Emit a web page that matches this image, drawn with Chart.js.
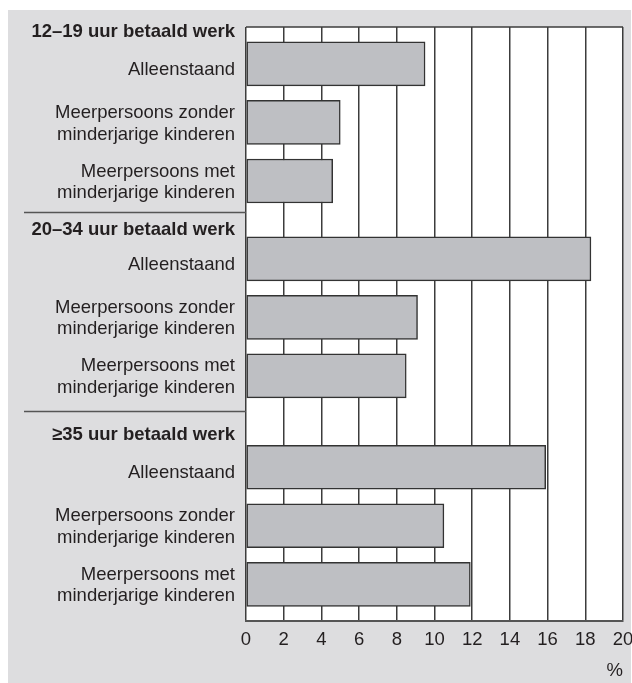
<!DOCTYPE html>
<html lang="nl">
<head>
<meta charset="utf-8">
<title>Betaald werk per huishouden</title>
<script src="https://cdn.jsdelivr.net/npm/chart.js@4.4.1/dist/chart.umd.min.js"></script>
<style>
  html, body { margin: 0; padding: 0; background: #fff; }
  canvas { display: block; }
</style>
</head>
<body>
<canvas id="grafiek" width="632" height="683"></canvas>
<script>
// Gegevens (in %)
const groepen = ['12–19 uur betaald werk', '20–34 uur betaald werk', '≥35 uur betaald werk'];
const huishoudens = [
  ['Alleenstaand'],
  ['Meerpersoons zonder', 'minderjarige kinderen'],
  ['Meerpersoons met', 'minderjarige kinderen']
];
const waarden12tot19 = [9.5, 5.0, 4.6];
const waarden20tot34 = [18.3, 9.1, 8.5];
const waarden35plus = [15.9, 10.5, 11.9];
const xMax = 20;
const xStap = 2;

// Indeling van de rijen (in eenheden van een balkrij)
const groepStart = [0.13, 3.46, 7.02]; // begin van de eerste balk per groep
const kopPositie = [0.09, 3.46, 6.97]; // hoogte van de groepskop
const scheidingslijnen = [3.16, 6.56];
const yMax = 10.14;

const tekstKleur = '#231f20';
const lettertype = '"Liberation Sans", Arial, Helvetica, sans-serif';

const waardenPerGroep = [waarden12tot19, waarden20tot34, waarden35plus];
const punten = [];
waardenPerGroep.forEach((rij, g) => {
  rij.forEach((v, i) => punten.push({ x: v, y: groepStart[g] + i + 0.5 }));
});

// Grijs vlak en witte plotruimte
const achtergrond = {
  id: 'achtergrond',
  beforeDraw(chart) {
    const { ctx, chartArea: a } = chart;
    ctx.save();
    ctx.fillStyle = '#dddddf';
    ctx.fillRect(8, 10, 623, 673);
    ctx.fillStyle = '#ffffff';
    ctx.fillRect(a.left, a.top, a.right - a.left, a.bottom - a.top);
    ctx.restore();
  }
};

// Labels links, groepskoppen en scheidingslijnen
const rijLabels = {
  id: 'rijLabels',
  afterDraw(chart) {
    const { ctx, chartArea: a } = chart;
    const y = chart.scales.y;
    const xTekst = a.left - 11;
    ctx.save();
    ctx.fillStyle = tekstKleur;
    ctx.textAlign = 'right';
    ctx.textBaseline = 'middle';
    groepen.forEach((kop, g) => {
      ctx.font = 'bold 18.5px ' + lettertype;
      ctx.fillText(kop, xTekst, y.getPixelForValue(kopPositie[g]));
      ctx.font = '18.5px ' + lettertype;
      huishoudens.forEach((regels, i) => {
        const py = y.getPixelForValue(groepStart[g] + i + 0.5);
        if (regels.length === 1) {
          ctx.fillText(regels[0], xTekst, py + 6);
        } else {
          ctx.fillText(regels[0], xTekst, py - 9.5);
          ctx.fillText(regels[1], xTekst, py + 12);
        }
      });
    });
    ctx.strokeStyle = '#555555';
    ctx.lineWidth = 1.5;
    scheidingslijnen.forEach(pos => {
      const py = Math.round(y.getPixelForValue(pos)) + 0.5;
      ctx.beginPath();
      ctx.moveTo(24, py);
      ctx.lineTo(a.left, py);
      ctx.stroke();
    });
    // bovenrand van de plot
    ctx.strokeStyle = '#3c3c3c';
    ctx.beginPath();
    ctx.moveTo(a.left, a.top);
    ctx.lineTo(a.right, a.top);
    ctx.stroke();
    ctx.restore();
  }
};

Chart.defaults.font.family = lettertype;
Chart.defaults.color = tekstKleur;

new Chart(document.getElementById('grafiek'), {
  type: 'bar',
  data: {
    datasets: [{
      data: punten,
      backgroundColor: '#bebfc3',
      borderColor: '#333333',
      borderWidth: 1.5,
      borderSkipped: false,
      barThickness: 44
    }]
  },
  options: {
    indexAxis: 'y',
    responsive: false,
    animation: false,
    layout: { padding: { left: 246, right: 9, top: 27, bottom: 1 } },
    plugins: {
      legend: { display: false },
      tooltip: { enabled: false }
    },
    scales: {
      x: {
        type: 'linear',
        min: 0,
        max: xMax,
        ticks: { stepSize: xStap, color: tekstKleur, font: { size: 18.5 }, padding: 8 },
        grid: { color: '#3c3c3c', lineWidth: 1.5, drawTicks: false },
        border: { color: '#555555', width: 2 },
        title: {
          display: true,
          text: '%',
          align: 'end',
          color: tekstKleur,
          font: { size: 18.5 },
          padding: { top: 1, bottom: 0 }
        },
        afterFit(scale) {
          // laat het label "20" over de rand hangen zoals in het origineel
          scale.paddingRight = 0;
          scale.paddingLeft = 0;
        }
      },
      y: {
        type: 'linear',
        reverse: true,
        offset: false,
        min: 0,
        max: yMax,
        display: false
      }
    }
  },
  plugins: [achtergrond, rijLabels]
});
</script>
</body>
</html>
